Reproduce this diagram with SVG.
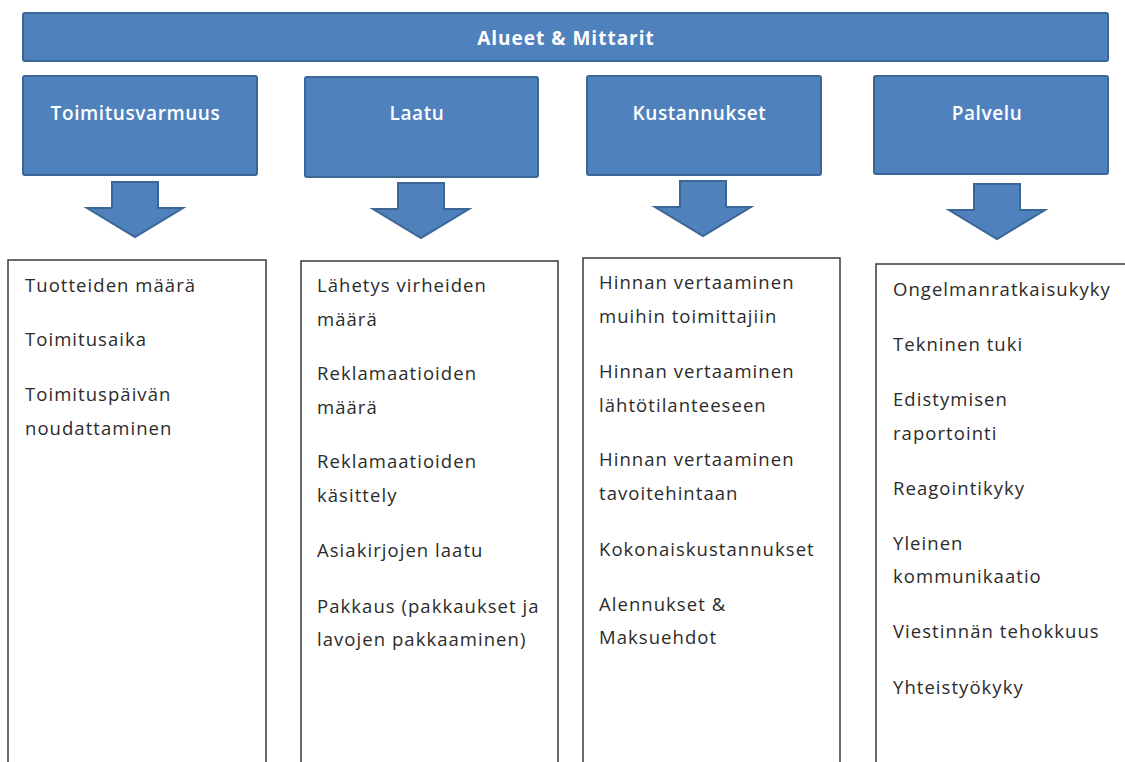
<svg xmlns="http://www.w3.org/2000/svg" width="1125" height="762" viewBox="0 0 1125 762">
<style>
.blue{fill:#4F81BD;stroke:#3B6696;stroke-width:2}
.hdr{font-family:"Open Sans","Liberation Sans",sans-serif;font-size:19px;font-weight:600;fill:#ffffff;text-anchor:middle;letter-spacing:0.6px}
.box{fill:#ffffff;stroke:#3a3a3a;stroke-width:1.5}
.item{font-family:"Open Sans","Liberation Sans",sans-serif;font-size:18.5px;fill:#2b2b2b;letter-spacing:1.05px}
</style>
<defs>
<path id="arrow" d="M-23,0 H23 V26 H48 L0,55 L-48,26 H-23 Z"/>
</defs>
<g id="title">
<rect class="blue" x="23" y="13" width="1085" height="48" rx="2"/>
<text class="hdr" x="566" y="45" style="font-weight:700;letter-spacing:1px">Alueet &amp; Mittarit</text>
</g>
<g id="h-toimitusvarmuus">
<rect class="blue" x="23" y="76" width="234" height="99" rx="2"/>
<text class="hdr" x="135.5" y="120">Toimitusvarmuus</text>
</g>
<g id="h-laatu">
<rect class="blue" x="305" y="77" width="233" height="100" rx="2"/>
<text class="hdr" x="417" y="120">Laatu</text>
</g>
<g id="h-kustannukset">
<rect class="blue" x="587" y="76" width="234" height="99" rx="2"/>
<text class="hdr" x="699.5" y="120">Kustannukset</text>
</g>
<g id="h-palvelu">
<rect class="blue" x="874" y="76" width="234" height="98" rx="2"/>
<text class="hdr" x="987" y="120">Palvelu</text>
</g>
<g id="connectors">
<use href="#arrow" class="blue" x="135" y="182"/>
<use href="#arrow" class="blue" x="421" y="183"/>
<use href="#arrow" class="blue" x="703" y="181"/>
<use href="#arrow" class="blue" x="997" y="184"/>
</g>
<g id="list-toimitusvarmuus">
<rect class="box" x="8" y="260" width="258" height="520"/>
<text class="item" x="25" y="292">Tuotteiden määrä</text>
<text class="item" x="25" y="346">Toimitusaika</text>
<text class="item" x="25" y="401">Toimituspäivän</text>
<text class="item" x="25" y="435">noudattaminen</text>
</g>
<g id="list-laatu">
<rect class="box" x="301" y="261" width="257" height="520"/>
<text class="item" x="317" y="292">Lähetys virheiden</text>
<text class="item" x="317" y="326">määrä</text>
<text class="item" x="317" y="380">Reklamaatioiden</text>
<text class="item" x="317" y="414">määrä</text>
<text class="item" x="317" y="468">Reklamaatioiden</text>
<text class="item" x="317" y="502">käsittely</text>
<text class="item" x="317" y="557">Asiakirjojen laatu</text>
<text class="item" x="317" y="613">Pakkaus (pakkaukset ja</text>
<text class="item" x="317" y="646">lavojen pakkaaminen)</text>
</g>
<g id="list-kustannukset">
<rect class="box" x="583" y="258" width="257" height="520"/>
<text class="item" x="599" y="289">Hinnan vertaaminen</text>
<text class="item" x="599" y="323">muihin toimittajiin</text>
<text class="item" x="599" y="378">Hinnan vertaaminen</text>
<text class="item" x="599" y="412">lähtötilanteeseen</text>
<text class="item" x="599" y="466">Hinnan vertaaminen</text>
<text class="item" x="599" y="500">tavoitehintaan</text>
<text class="item" x="599" y="556">Kokonaiskustannukset</text>
<text class="item" x="599" y="611">Alennukset &amp;</text>
<text class="item" x="599" y="644">Maksuehdot</text>
</g>
<g id="list-palvelu">
<rect class="box" x="876" y="264" width="260" height="520"/>
<text class="item" x="893" y="296">Ongelmanratkaisukyky</text>
<text class="item" x="893" y="351">Tekninen tuki</text>
<text class="item" x="893" y="406">Edistymisen</text>
<text class="item" x="893" y="440">raportointi</text>
<text class="item" x="893" y="495">Reagointikyky</text>
<text class="item" x="893" y="550">Yleinen</text>
<text class="item" x="893" y="583">kommunikaatio</text>
<text class="item" x="893" y="638">Viestinnän tehokkuus</text>
<text class="item" x="893" y="694">Yhteistyökyky</text>
</g>
</svg>
